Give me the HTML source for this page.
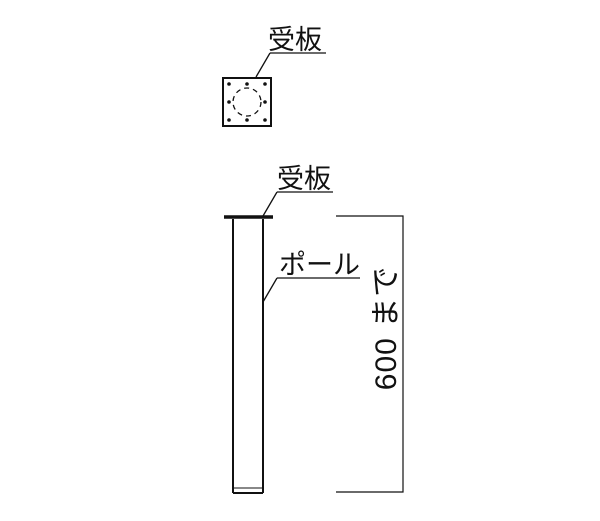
<!DOCTYPE html>
<html><head><meta charset="utf-8"><style>
html,body{margin:0;padding:0;background:#fff}
svg{display:block}
text{font-family:"Liberation Sans","Noto Sans CJK JP",sans-serif;fill:#111}
</style></head><body>
<svg width="600" height="521" viewBox="0 0 600 521" xmlns="http://www.w3.org/2000/svg">
<g stroke="#111" fill="none">
<rect x="223" y="78" width="48" height="48" stroke-width="2"/>
<circle cx="247" cy="102" r="14" stroke-width="1.3" stroke-dasharray="5,4"/>
<line x1="270" y1="53" x2="326" y2="53" stroke-width="1.3"/>
<line x1="270" y1="53" x2="256" y2="77" stroke-width="1.3"/>
<line x1="224" y1="217" x2="273" y2="217" stroke-width="3.5"/>
<line x1="233" y1="219" x2="233" y2="493" stroke-width="2"/>
<line x1="263" y1="219" x2="263" y2="493" stroke-width="2"/>
<line x1="233" y1="493" x2="263" y2="493" stroke-width="2"/>
<line x1="233" y1="488" x2="263" y2="488" stroke-width="1"/>
<line x1="277" y1="192" x2="333" y2="192" stroke-width="1.3"/>
<line x1="277" y1="192" x2="263" y2="216" stroke-width="1.3"/>
<line x1="277" y1="278" x2="360" y2="278" stroke-width="1.3"/>
<line x1="277" y1="278" x2="263" y2="302" stroke-width="1.3"/>
<polyline points="336,216 403,216 403,492 336,492" stroke-width="1.2"/>
</g>
<g fill="#111">
<circle cx="229" cy="84" r="1.8"/><circle cx="247" cy="84" r="1.8"/><circle cx="265" cy="84" r="1.8"/>
<circle cx="229" cy="102" r="1.8"/><circle cx="265" cy="102" r="1.8"/>
<circle cx="229" cy="120" r="1.8"/><circle cx="247" cy="120" r="1.8"/><circle cx="265" cy="120" r="1.8"/>
</g>
<text x="268" y="49" font-size="27">受板</text>
<text x="277" y="188" font-size="27">受板</text>
<text x="279" y="274" font-size="27">ポール</text>
<text transform="translate(396,328) rotate(-90)" text-anchor="middle" font-size="30" letter-spacing="1">600 まで</text>
</svg>
</body></html>
